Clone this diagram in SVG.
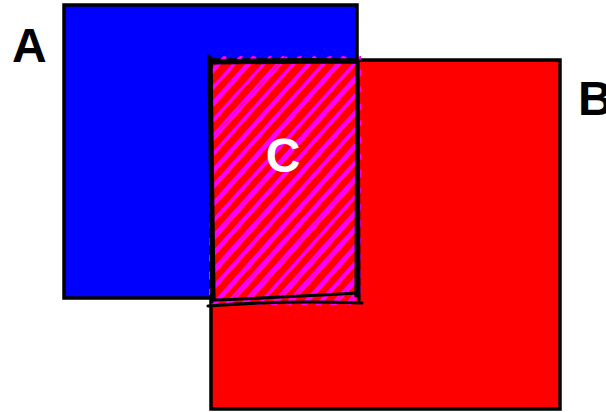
<svg xmlns="http://www.w3.org/2000/svg" width="606" height="412" viewBox="0 0 606 412">
<style>
.lbl{font-family:"Liberation Sans",Arial,sans-serif;font-weight:bold;font-size:48px}
.sq{stroke:#000;stroke-width:3.5}
.sk{fill:none;stroke:#000;stroke-width:3.2;stroke-linecap:round}
.hl{fill:none;stroke:#ff00ff;stroke-width:2.6}
</style>
<defs>
<clipPath id="cc"><rect x="209" y="56" width="152" height="249"/></clipPath>
</defs>
<g id="A">
<rect class="sq" x="64" y="5" width="293" height="293" fill="#0000ff"/>
<text class="lbl" x="12" y="62" fill="#000">A</text>
</g>
<g id="B">
<rect class="sq" x="211" y="60" width="349" height="349" fill="#ff0000"/>
<text class="lbl" x="578" y="115" fill="#000">B</text>
</g>
<g id="C">
<g clip-path="url(#cc)">
<path class="hl" d="M-14 305L209 57 M2 305L225 56 M16 306L240 57 M32 305L254 56 M46 304L270 57 M61 305L284 56 M77 306L299 57 M91 305L315 56 M106 304L329 57 M122 305L344 56 M136 306L360 57 M151 305L374 56 M167 304L389 57 M181 305L405 56 M196 306L419 57 M212 305L434 56 M226 304L450 57 M241 305L464 56 M257 306L479 57 M271 305L495 56 M286 304L509 57 M302 305L524 56 M316 306L539 57 M331 305L555 56 M346 304L569 57 M361 305L584 56"/>
<path class="hl" d="M-11 305L210 57 M5 306L226 57 M19 305L242 56 M34 306L256 57 M49 305L271 56 M64 306L287 57 M79 305L301 56 M94 306L316 57 M109 305L331 56 M124 306L346 57 M139 305L362 56 M154 306L376 57 M169 305L391 56 M184 306L406 57 M199 305L421 56 M214 306L436 57 M229 305L451 56 M244 306L466 57 M259 305L481 56 M274 306L496 57 M289 305L511 56 M304 306L526 57 M319 305L541 56 M334 306L556 57 M349 305L571 56"/>
</g>
<path class="sk" d="M212 61 Q285 59 358 60 M214 63 Q290 62 356 62 M209 56 Q211 180 212 302 M211 58 Q213 180 214 300 M357 56 Q356 180 356 296 M358 60 Q358 180 359 300 M208 306 Q285 300 362 303 M215 300 Q290 297 357 293"/>
<text class="lbl" x="283" y="172" fill="#fff" text-anchor="middle">C</text>
</g>
</svg>
